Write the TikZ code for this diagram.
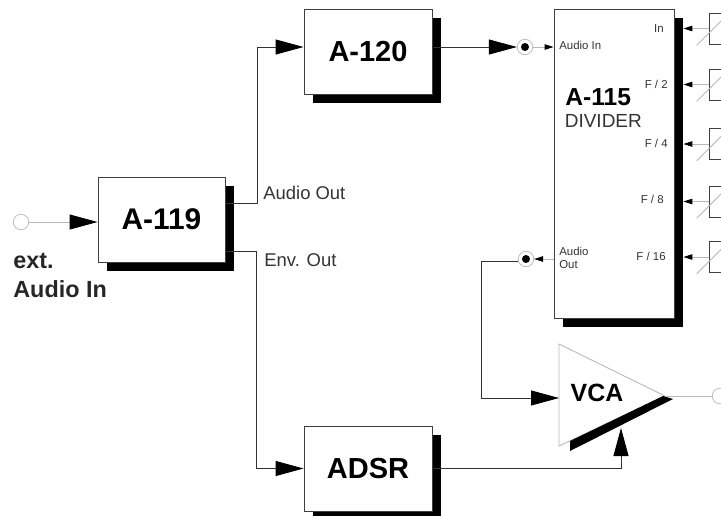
\documentclass[tikz,border=0pt]{standalone}
\usepackage{fontspec}
\setmainfont{Liberation Sans}
\usetikzlibrary{arrows.meta}
\usetikzlibrary{calc}
\usetikzlibrary{shadows}
\usetikzlibrary{positioning}
\definecolor{wiregray}{gray}{0.72}
\definecolor{textgray}{gray}{0.2}
\tikzset{block/.style={draw=black!75,fill=white,line width=0.5pt,inner sep=0pt,
    font=\fontsize{16.5}{16.5}\selectfont\bfseries,
    drop shadow={shadow xshift=0.18cm,shadow yshift=-0.18cm,fill=black,opacity=1}}}
\tikzset{cvbox/.style={draw=black!75,fill=white,line width=0.4pt,inner sep=0pt,
    minimum width=0.8cm,minimum height=0.62cm}}
\tikzset{jack/.style={circle,draw=wiregray,fill=white,line width=0.4pt,inner sep=0pt,minimum size=0.31cm}}
\tikzset{jackdot/.style={jack,path picture={\fill[black] (path picture bounding box.center) circle (0.08cm);}}}
\tikzset{wire/.style={draw=black!80,line width=0.5pt}}
\tikzset{grayline/.style={draw=wiregray,line width=0.5pt}}
\tikzset{bigarrow/.style={-{Triangle[length=0.56cm,width=0.3cm,color=black,fill=black]}}}
\tikzset{smallarrow/.style={-{Triangle[length=0.18cm,width=0.11cm,color=black,fill=black]}}}
\tikzset{txt/.style={inner sep=0pt,anchor=base west,text=textgray,font=\fontsize{10.5}{10.5}\selectfont}}
\tikzset{tinytxt/.style={inner sep=0pt,text=textgray,font=\fontsize{6.5}{6.5}\selectfont}}
\begin{document}
\begin{tikzpicture}[x=0.02cm,y=-0.02cm]
    \useasboundingbox (0,0) rectangle (721,515);
    \clip (0,0) rectangle (721,515);

    \node[block,minimum width=2.54cm,minimum height=1.7cm,font=\fontsize{17}{17}\selectfont\bfseries] (a119) at (161.5,219.5) {A-119};
    \node[block,minimum width=2.56cm,minimum height=1.7cm] (a120) at (368,51.5) {A-120};
    \node[block,minimum width=2.56cm,minimum height=1.7cm] (adsr) at (368,468.5) {ADSR};
    \node[block,minimum width=2.4cm,minimum height=6.18cm] (a115) at (614,163.5) {};

    \node[jack] (ext) at (21,222) {};
    \node[jack] (vcaout) at (720,396) {};
    \node[jackdot] (audioin) at (525,47) {};
    \node[jackdot] (audioout) at (526,259) {};

    \node[cvbox] (cvin) at (729,28.5) {};
    \node[cvbox] (cvb) at (729,84.5) {};
    \node[cvbox] (cvc) at (729,144) {};
    \node[cvbox] (cvd) at (729,201.5) {};
    \node[cvbox] (cve) at (729,257) {};

    \coordinate (aoutbend) at (257.5,203);
    \coordinate (eoutbend) at (256.5,251);
    \coordinate (audiobend) at (481,261);
    \coordinate (vcain) at (559,398);
    \coordinate (vcatip) at (665,396);
    \coordinate (vcatop) at (559,344);
    \coordinate (vcabot) at (559,446);
    \coordinate (cvup) at (621,428);

    \draw[grayline,fill=white] (vcatop) -- (vcatip) -- (vcabot) -- cycle;
    \node[inner sep=0pt,font=\fontsize{14.2}{14.2}\selectfont\bfseries] (vca) at (597,393) {VCA};
    \fill[black] (570,441) -- (570,451) -- (673,399) -- (663,396) -- cycle;

    \draw[grayline] (vcatip) -- (vcaout);
    \draw[grayline,bigarrow] (ext) -- (a119.west |- ext);
    \draw[wire] (a119.east |- aoutbend) -- (aoutbend);
    \draw[wire,bigarrow] (aoutbend) |- (a120.west |- audioin);
    \draw[wire] (a119.east |- eoutbend) -- (eoutbend);
    \draw[wire,bigarrow] (eoutbend) |- (adsr.west);
    \draw[wire,bigarrow] (a120.east |- audioin) -- (audioin);
    \draw[grayline,smallarrow] (audioin) -- (a115.west |- audioin);
    \draw[grayline,smallarrow] (a115.west |- audioout) -- (audioout);
    \draw[wire] (audioout.west |- audiobend) -- (audiobend);
    \draw[wire,bigarrow] (audiobend) |- (vcain);
    \draw[wire,bigarrow] (adsr.east) -| (cvup);

    \foreach \cv in {cvin,cvb,cvc,cvd,cve}{
        \draw[grayline,smallarrow,shorten >=0.18cm] (\cv.west) -- (a115.east |- \cv);
        \draw[grayline] ($(\cv.south west)+(-12,1)$) -- ++(40,-40);
    }

    \node[txt] (aoutlabel) at (263,199) {Audio Out};
    \node[txt] (eoutlabel) at (264,266) {Env. Out};
    \node[txt,font=\fontsize{13.3}{13.3}\selectfont\bfseries,text=black!85] (extlabel) at (13,268) {ext.};
    \node[txt,font=\fontsize{13.3}{13.3}\selectfont\bfseries,text=black!85] (inlabel) at (13,297) {Audio In};
    \node[inner sep=0pt,anchor=base west,font=\fontsize{14}{14}\selectfont\bfseries] (a115name) at (565,105) {A-115};
    \node[txt,font=\fontsize{10.8}{10.8}\selectfont] (a115sub) at (564.5,127) {DIVIDER};
    \node[tinytxt,anchor=base west] (ainlabel) at (559,49) {Audio In};
    \node[tinytxt,anchor=base west] (aoutsmall) at (559,255) {Audio};
    \node[tinytxt,anchor=base west] (aoutsmallb) at (559,268) {Out};
    \node[tinytxt,anchor=base east] (inlabelb) at (664,32) {In};
    \node[tinytxt,anchor=base east] (f2) at (668,88) {F / 2};
    \node[tinytxt,anchor=base east] (f4) at (668,147) {F / 4};
    \node[tinytxt,anchor=base east] (f8) at (664,203) {F / 8};
    \node[tinytxt,anchor=base east] (f16) at (666,260) {F / 16};
\end{tikzpicture}
\end{document}
